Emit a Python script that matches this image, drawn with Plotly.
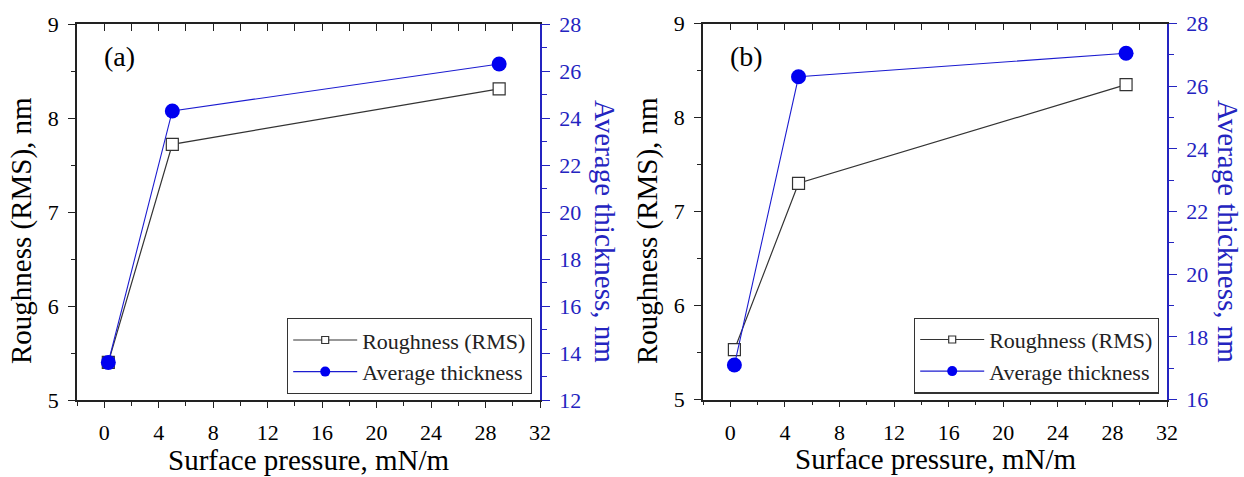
import plotly.graph_objects as go

W, H = 1244, 477

# Surface pressure (mN/m)
pressure = [0.3, 5, 29]

# Panel (a)
rough_a = [5.40, 7.72, 8.31]
thick_a = [13.6, 24.3, 26.3]

# Panel (b)
rough_b = [5.53, 7.30, 8.35]
thick_b = [17.1, 26.3, 27.05]

x_ticks = [0, 4, 8, 12, 16, 20, 24, 28, 32]
rough_ticks = [5, 6, 7, 8, 9]
thick_ticks_a = [12, 14, 16, 18, 20, 22, 24, 26, 28]
thick_ticks_b = [16, 18, 20, 22, 24, 26, 28]

FONT = "Liberation Serif, Times New Roman, serif"
BLACK = "#222222"
BLUE_AX = "#2424c0"
BLUE_PT = "#0000f0"
BLUE_LN = "#1c1cd0"


def px_x(p):
    return p / W


def px_y(p):
    return 1 - p / H


# plot areas in pixels: (left, right, top, bottom)
box_a = (77, 540, 24, 400)
box_b = (703, 1167, 23.5, 399.5)

fig = go.Figure()


def add_panel(box, rough, thick, xa, xtop, yl, yr, legend_name, thick_ticks):
    xa_ref = "x" if xa == "xaxis" else "x" + xa[5:]
    xtop_ref = "x" + xtop[5:]
    yl_ref = "y" if yl == "yaxis" else "y" + yl[5:]
    yr_ref = "y" + yr[5:]

    fig.add_trace(go.Scatter(
        x=pressure, y=rough, xaxis=xa_ref, yaxis=yl_ref, mode="lines+markers",
        line=dict(color="#333333", width=1.2),
        marker=dict(symbol="square", size=12, color="white",
                    line=dict(color="#333333", width=1.2)),
        showlegend=False, hoverinfo="skip"))
    fig.add_trace(go.Scatter(
        x=pressure, y=thick, xaxis=xa_ref, yaxis=yr_ref, mode="lines+markers",
        line=dict(color=BLUE_LN, width=1.1),
        marker=dict(symbol="circle", size=15, color=BLUE_PT, line=dict(width=0)),
        showlegend=False, hoverinfo="skip"))
    # legend entries with smaller symbols
    fig.add_trace(go.Scatter(
        x=[None], y=[None], xaxis=xa_ref, yaxis=yl_ref, mode="lines+markers",
        name="Roughness (RMS)", legend=legend_name,
        line=dict(color="#333333", width=1.2),
        marker=dict(symbol="square", size=7, color="white",
                    line=dict(color="#333333", width=1.2))))
    fig.add_trace(go.Scatter(
        x=[None], y=[None], xaxis=xa_ref, yaxis=yl_ref, mode="lines+markers",
        name="Average thickness", legend=legend_name,
        line=dict(color=BLUE_LN, width=1.1),
        marker=dict(symbol="circle", size=10, color=BLUE_PT)))
    # carrier (draws nothing) so the mirrored top axis gets rendered
    fig.add_trace(go.Scatter(
        x=pressure, y=rough, xaxis=xtop_ref, yaxis=yl_ref, mode="none",
        showlegend=False, hoverinfo="skip"))

    l, r, t, b = box
    xdom = [px_x(l), px_x(r)]
    ydom = [px_y(b), px_y(t)]
    tick_font = dict(family=FONT, size=22, color="black")

    fig.layout[xa] = dict(
        domain=xdom, anchor=yl_ref, range=[-2, 32], tickvals=x_ticks,
        ticks="outside", ticklen=6, tickwidth=1.3, tickcolor=BLACK,
        minor=dict(ticks="outside", ticklen=4, dtick=2, tick0=0,
                   tickwidth=1.2, tickcolor=BLACK),
        showline=True, linecolor=BLACK, linewidth=1.5,
        showgrid=False, zeroline=False, tickfont=tick_font,
        ticklabelstandoff=6, automargin=False)
    fig.layout[xtop] = dict(
        overlaying=xa_ref, anchor=yl_ref, side="top", range=[-2, 32],
        tickvals=x_ticks, ticks="inside", ticklen=7, tickwidth=1.3,
        tickcolor=BLACK, showticklabels=False,
        minor=dict(ticks="inside", ticklen=7, dtick=2, tick0=0,
                   tickwidth=1.2, tickcolor=BLACK),
        showline=True, linecolor=BLACK, linewidth=1.5,
        showgrid=False, zeroline=False, automargin=False)
    fig.layout[yl] = dict(
        domain=ydom, anchor=xa_ref, range=[5, 9], tickvals=rough_ticks,
        ticks="outside", ticklen=7, tickwidth=1.3, tickcolor=BLACK,
        minor=dict(ticks="outside", ticklen=4, dtick=0.5, tick0=5,
                   tickwidth=1.2, tickcolor=BLACK),
        showline=True, linecolor=BLACK, linewidth=1.5,
        showgrid=False, zeroline=False, tickfont=tick_font,
        ticklabelstandoff=5, automargin=False)
    fig.layout[yr] = dict(
        overlaying=yl_ref, anchor=xa_ref, side="right",
        range=[thick_ticks[0], thick_ticks[-1]], tickvals=thick_ticks,
        ticks="outside", ticklen=8, tickwidth=1.3, tickcolor=BLUE_AX,
        minor=dict(ticks="outside", ticklen=5, dtick=1, tick0=thick_ticks[0],
                   tickwidth=1.2, tickcolor=BLUE_AX),
        showline=True, linecolor=BLUE_AX, linewidth=1.5,
        showgrid=False, zeroline=False,
        tickfont=dict(family=FONT, size=22, color=BLUE_AX),
        ticklabelstandoff=5, automargin=False)

    # legend box anchored to its lower-right corner
    fig.layout[legend_name] = dict(
        x=px_x(r - 8), y=px_y(b - 6), xanchor="right", yanchor="bottom",
        xref="paper", yref="paper",
        bgcolor="white", bordercolor="#333333", borderwidth=1.2,
        font=dict(family=FONT, size=22, color=BLACK),
        itemwidth=64, tracegroupgap=0)


add_panel(box_a, rough_a, thick_a, "xaxis", "xaxis3", "yaxis", "yaxis2", "legend",
          thick_ticks_a)
add_panel(box_b, rough_b, thick_b, "xaxis2", "xaxis4", "yaxis3", "yaxis4", "legend2",
          thick_ticks_b)

title_font = dict(family=FONT, size=29, color="black")
blue_title_font = dict(family=FONT, size=29, color=BLUE_AX)


def annot(text, x, y, font, angle=0):
    fig.add_annotation(text=text, x=px_x(x), y=px_y(y), xref="paper", yref="paper",
                       xanchor="center", yanchor="middle", showarrow=False,
                       font=font, textangle=angle)


# panel (a)
annot("Roughness (RMS), nm", 21, 231, title_font, -90)
annot("Average thickness, nm", 605, 231, blue_title_font, 90)
annot("Surface pressure, mN/m", 308.5, 460, title_font)
annot("(a)", 119, 57, dict(family=FONT, size=28, color="black"))

# panel (b)
annot("Roughness (RMS), nm", 647, 231, title_font, -90)
annot("Average thickness, nm", 1228, 231, blue_title_font, 90)
annot("Surface pressure, mN/m", 935, 459, title_font)
annot("(b)", 746, 57, dict(family=FONT, size=28, color="black"))

fig.update_layout(
    width=W, height=H,
    margin=dict(l=0, r=0, t=0, b=0, pad=0, autoexpand=False),
    paper_bgcolor="white", plot_bgcolor="white",
    font=dict(family=FONT),
)

fig.write_html("out.html", config={"displayModeBar": False},
               post_script="document.body.style.margin='0';")
